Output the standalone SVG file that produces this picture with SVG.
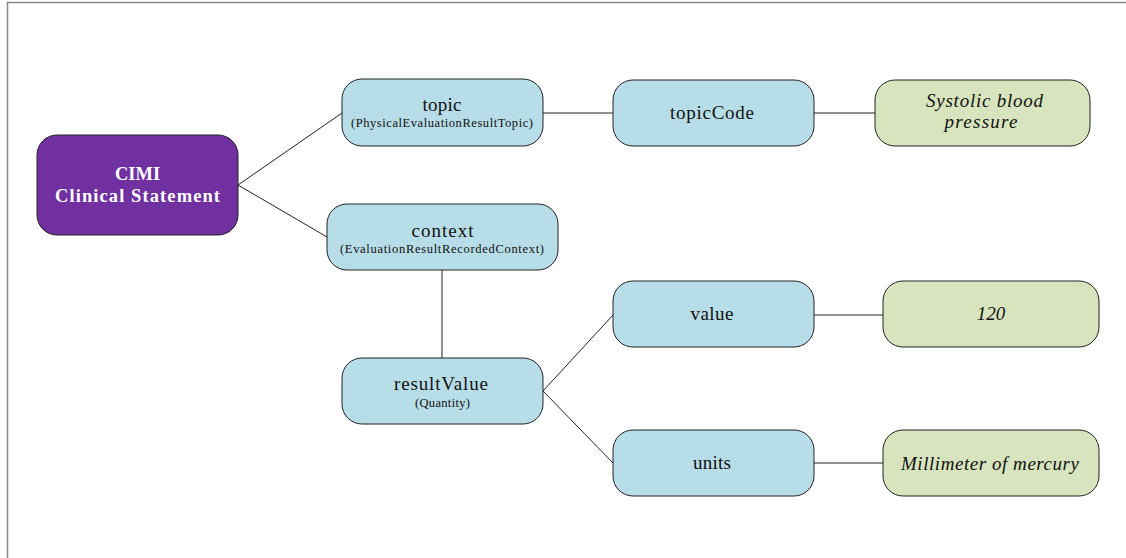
<svg xmlns="http://www.w3.org/2000/svg" width="1126" height="558" viewBox="0 0 1126 558">
<style>
.frame{fill:none;stroke:#888;stroke-width:1.5}
.box{stroke:#222;stroke-width:1}
.blue{fill:#B7DDE8}
.green{fill:#D7E4BD}
.purple{fill:#7030A0}
.t{font-family:"Liberation Serif","Times New Roman",serif;fill:#111;text-anchor:middle}
.main{font-size:19px}
.sub{font-size:12.5px}
.it{font-style:italic;font-size:19px}
.w{fill:#fff;font-weight:bold;font-size:18.5px}
.conn{stroke:#222;stroke-width:1;fill:none}
</style>
<rect width="1126" height="558" fill="#fff"/>
<path class="frame" d="M7.5,558 V2.5 H1126"/>
<g id="connectors">
<line class="conn" x1="238" y1="185" x2="342" y2="113"/>
<line class="conn" x1="238" y1="185" x2="327" y2="237"/>
<line class="conn" x1="543" y1="113" x2="613" y2="113"/>
<line class="conn" x1="814" y1="113" x2="875" y2="113"/>
<line class="conn" x1="442" y1="270" x2="442" y2="358"/>
<line class="conn" x1="543" y1="391" x2="613" y2="315"/>
<line class="conn" x1="543" y1="391" x2="613" y2="463"/>
<line class="conn" x1="814" y1="315" x2="883" y2="315"/>
<line class="conn" x1="814" y1="463" x2="883" y2="463"/>
</g>
<g id="cimi">
<rect class="box purple" x="37" y="135" width="201" height="100" rx="20"/>
<text class="t w" x="137.5" y="180">CIMI</text>
<text class="t w" x="137.5" y="202" textLength="165" lengthAdjust="spacing">Clinical Statement</text>
</g>
<g id="topic">
<rect class="box blue" x="342" y="79" width="201" height="67" rx="20"/>
<text class="t main" x="442" y="111" textLength="39" lengthAdjust="spacing">topic</text>
<text class="t sub" x="442" y="127" textLength="182" lengthAdjust="spacing">(PhysicalEvaluationResultTopic)</text>
</g>
<g id="topicCode">
<rect class="box blue" x="613" y="80" width="201" height="66" rx="20"/>
<text class="t main" x="712" y="119" textLength="84" lengthAdjust="spacing">topicCode</text>
</g>
<g id="systolic">
<rect class="box green" x="875" y="80" width="215" height="66" rx="20"/>
<text class="t it" x="984.5" y="107" textLength="117" lengthAdjust="spacing">Systolic blood</text>
<text class="t it" x="981" y="128" textLength="73" lengthAdjust="spacing">pressure</text>
</g>
<g id="context">
<rect class="box blue" x="327" y="204" width="231" height="66" rx="20"/>
<text class="t main" x="442.5" y="237" textLength="62" lengthAdjust="spacing">context</text>
<text class="t sub" x="442" y="253" textLength="204" lengthAdjust="spacing">(EvaluationResultRecordedContext)</text>
</g>
<g id="resultValue">
<rect class="box blue" x="342" y="358" width="201" height="66" rx="20"/>
<text class="t main" x="441" y="390" textLength="94" lengthAdjust="spacing">resultValue</text>
<text class="t sub" x="442.5" y="407" textLength="55" lengthAdjust="spacing">(Quantity)</text>
</g>
<g id="value">
<rect class="box blue" x="613" y="281" width="201" height="66" rx="20"/>
<text class="t main" x="712" y="320" textLength="43" lengthAdjust="spacing">value</text>
</g>
<g id="v120">
<rect class="box green" x="883" y="281" width="216" height="66" rx="20"/>
<text class="t it" x="991" y="320">120</text>
</g>
<g id="units">
<rect class="box blue" x="613" y="430" width="201" height="66" rx="20"/>
<text class="t main" x="712" y="469" textLength="38" lengthAdjust="spacing">units</text>
</g>
<g id="mmhg">
<rect class="box green" x="883" y="430" width="216" height="66" rx="20"/>
<text class="t it" x="990" y="470" textLength="178" lengthAdjust="spacing">Millimeter of mercury</text>
</g>
</svg>
